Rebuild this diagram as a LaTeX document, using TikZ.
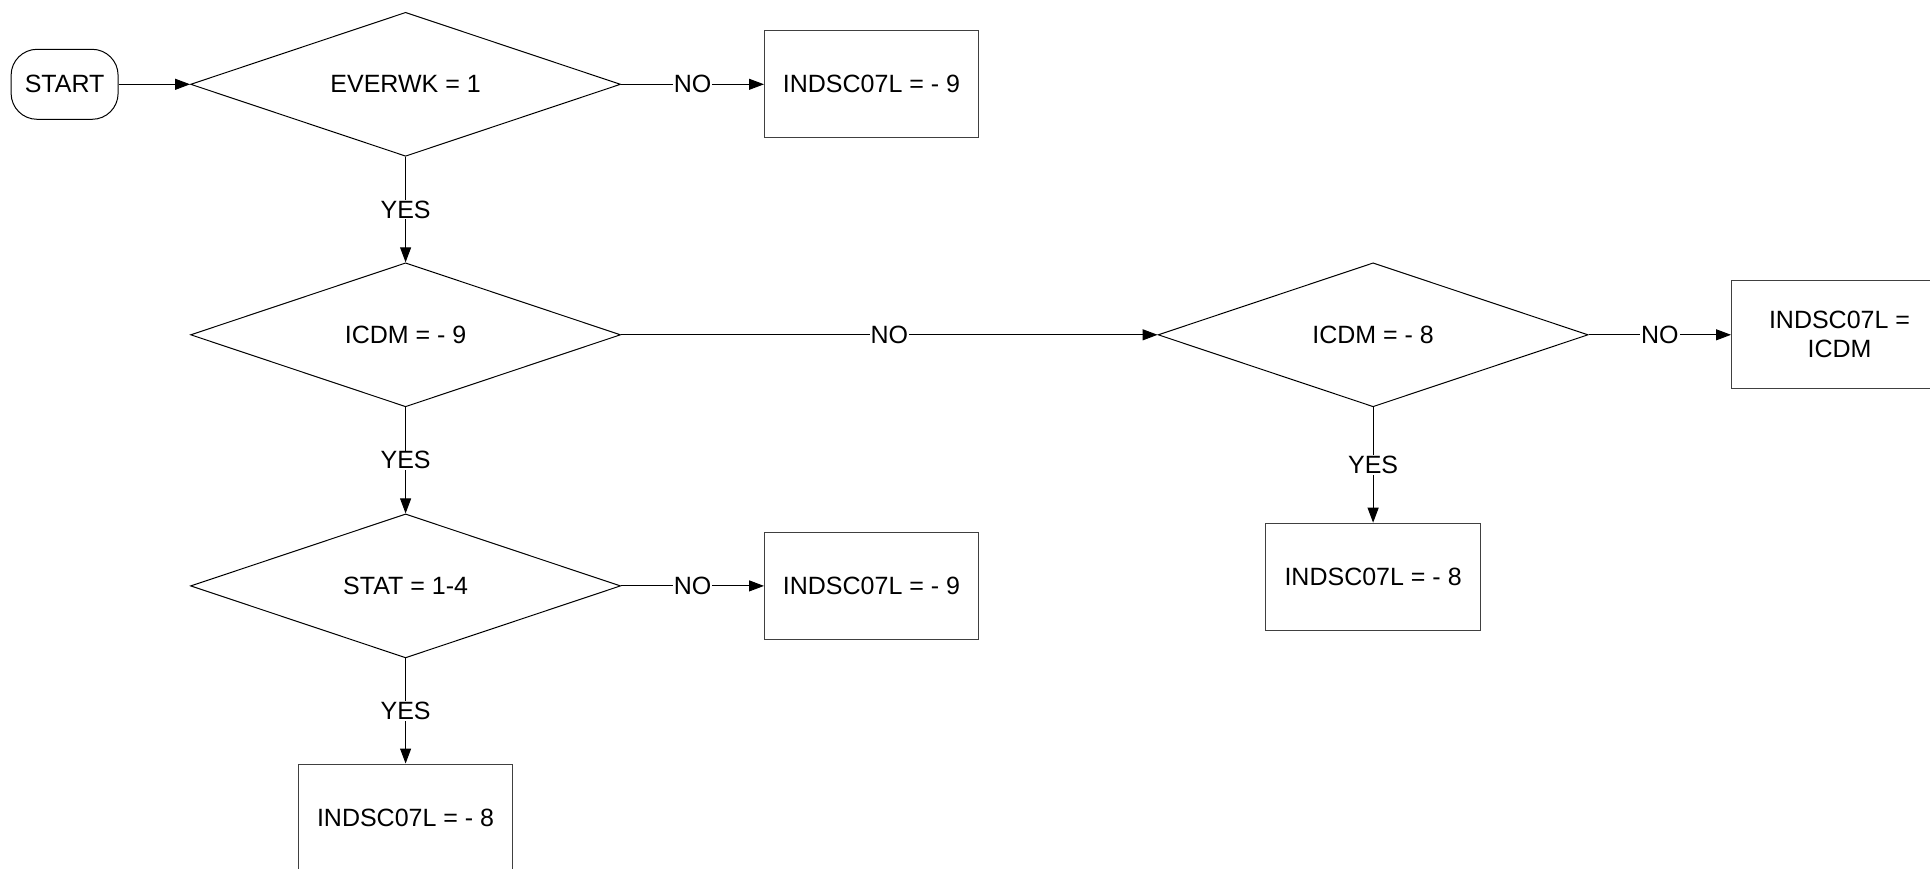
\documentclass[tikz,border=0pt]{standalone}
\usepackage{fontspec}
\setmainfont{Liberation Sans}
\usetikzlibrary{shapes.geometric,arrows.meta}
\begin{document}
\begin{tikzpicture}[x=1pt,y=-1pt,
  every node/.style={font=\fontsize{25}{29}\selectfont},
  dec/.style={shape=diamond,aspect=2.98,draw,line width=1pt,minimum width=430pt,minimum height=144pt,inner sep=0pt},
  procbox/.style={draw=black!75,line width=1pt,minimum width=214pt,minimum height=107pt,inner sep=0pt,align=center},
  startbox/.style={draw,line width=1pt,rounded corners=26pt,minimum width=107pt,minimum height=70pt,inner sep=0pt},
  arr/.style={line width=1pt,-{Triangle[length=15pt,width=11pt]}},
  lbl/.style={fill=white,inner sep=1pt}]
\useasboundingbox (0,0) rectangle (1930,868);
\node[startbox] (start) at (64.6,84.3) {START};
\node[dec] (d1) at (405.6,84.3) {EVERWK = 1};
\node[procbox] (b1) at (871.5,84.3) {INDSC07L = - 9};
\node[dec] (d2) at (405.6,334.8) {ICDM = - 9};
\node[dec] (d3) at (405.6,585.9) {STAT = 1-4};
\node[procbox] (b3) at (871.5,585.9) {INDSC07L = - 9};
\node[procbox] (b4) at (405.6,817.5) {INDSC07L = - 8};
\node[dec] (d4) at (1373.1,334.8) {ICDM = - 8};
\node[procbox,minimum width=216pt,minimum height=108pt] (b5) at (1839.5,334.8) {INDSC07L =\\ICDM};
\node[procbox,minimum width=215pt] (b6) at (1373.1,576.7) {INDSC07L = - 8};
\draw[arr] (start.east) -- (d1.west);
\draw[arr] (d1.east) -- node[lbl]{NO} (b1.west);
\draw[arr] (d1.south) -- node[lbl]{YES} (d2.north);
\draw[arr] (d2.east) -- node[lbl]{NO} (d4.west);
\draw[arr] (d2.south) -- node[lbl]{YES} (d3.north);
\draw[arr] (d3.east) -- node[lbl]{NO} (b3.west);
\draw[arr] (d3.south) -- node[lbl]{YES} (b4.north);
\draw[arr] (d4.east) -- node[lbl]{NO} (b5.west);
\draw[arr] (d4.south) -- node[lbl]{YES} (b6.north);
\end{tikzpicture}
\end{document}
